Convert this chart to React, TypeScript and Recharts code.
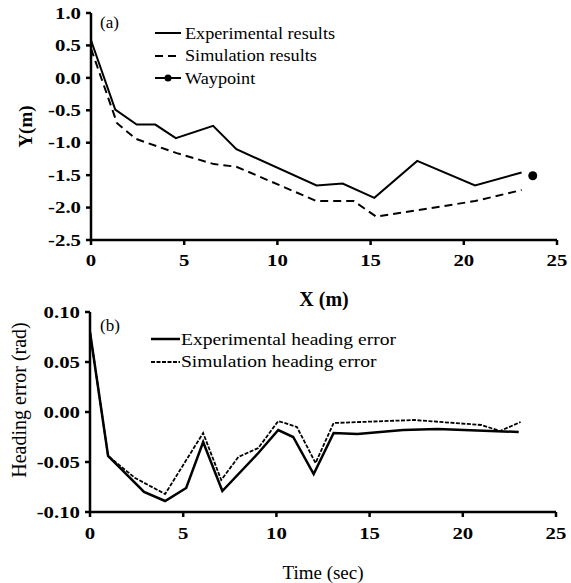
import React from "react";
import { ComposedChart, Line, Scatter, XAxis, YAxis, Label } from "recharts";

// (a) path in the X-Y plane
const expX = [0, 1.3, 2.45, 3.45, 4.55, 6.55, 7.8, 12.1, 13.5, 15.2, 17.5, 20.6, 23.1];
const expY = [0.58, -0.49, -0.72, -0.72, -0.93, -0.74, -1.1, -1.66, -1.63, -1.85, -1.28, -1.66, -1.46];
const simX = [0, 1.4, 2.4, 4.6, 6.6, 7.8, 12.1, 14.1, 15.3, 20.6, 23.1];
const simY = [0.45, -0.7, -0.94, -1.16, -1.33, -1.37, -1.9, -1.9, -2.14, -1.9, -1.73];
const waypointX = [23.7];
const waypointY = [-1.51];

// (b) heading error over time
const expT = [0, 0.97, 2.9, 4.03, 5.16, 6.07, 7.1, 9.03, 10.1, 10.9, 12.0, 13.07, 14.35, 16.8, 18.65, 23.0];
const expErr = [0.08, -0.044, -0.08, -0.089, -0.076, -0.03, -0.079, -0.041, -0.018, -0.025, -0.062, -0.021, -0.022, -0.018, -0.017, -0.02];
const simT = [0, 0.97, 2.42, 4.03, 6.07, 7.04, 7.96, 9.03, 10.1, 11.1, 12.1, 13.07, 17.4, 21.0, 22.0, 23.1];
const simErr = [0.08, -0.044, -0.066, -0.082, -0.021, -0.068, -0.045, -0.036, -0.009, -0.015, -0.051, -0.011, -0.008, -0.013, -0.019, -0.01];

const xTicks = [0, 5, 10, 15, 20, 25];
const yTicksA = [-2.5, -2.0, -1.5, -1.0, -0.5, 0.0, 0.5, 1.0];
const yTicksB = [-0.1, -0.05, 0.0, 0.05, 0.1];

const zip = (xs: number[], ys: number[]) => xs.map((x, i) => ({ x, y: ys[i] }));

const serif = "'Liberation Serif', 'Times New Roman', serif";
const axisLine = { stroke: "#000", strokeWidth: 2.5 };

// the scanned figure is a bit wide, so the text is stretched sideways
const serifTick =
  (fmt: (v: number) => string) =>
  (props: any) => {
    const { x, y, payload, textAnchor, verticalAnchor } = props;
    const dy = verticalAnchor === "start" ? "0.71em" : verticalAnchor === "end" ? "0" : "0.355em";
    return (
      <g transform={`translate(${x},${y})`}>
        <text
          x={0}
          y={0}
          dy={dy}
          textAnchor={textAnchor}
          transform="scale(1.3,1)"
          style={{ fontFamily: serif, fontSize: 16, fontWeight: "bold", fill: "#000" }}
        >
          {fmt(payload.value)}
        </text>
      </g>
    );
  };

const yTitle =
  (text: string, dx: number, dy: number, size: number, weight: string) =>
  (props: any) => {
    const vb = props.viewBox;
    const cx = vb.x + dx;
    const cy = vb.y + vb.height / 2 + dy;
    return (
      <text
        x={cx}
        y={cy}
        transform={`rotate(-90 ${cx} ${cy})`}
        textAnchor="middle"
        dominantBaseline="central"
        style={{ fontFamily: serif, fontSize: size, fontWeight: weight, fill: "#000" }}
      >
        {text}
      </text>
    );
  };

const LegendRow: React.FC<{
  dash?: string;
  dot?: boolean;
  width: number;
  gap: number;
  label: string;
  sw?: number;
  stretch?: number;
}> = ({ dash, dot, width, gap, label, sw = 2, stretch = 1.15 }) => (
  <div style={{ display: "flex", alignItems: "center", height: 22.5 }}>
    <svg width={width} height={12} style={{ marginRight: gap }}>
      <line x1={0} y1={6} x2={width} y2={6} stroke="#000" strokeWidth={sw} strokeDasharray={dash} />
      {dot && <circle cx={width / 2} cy={6} r={3.5} fill="#000" />}
    </svg>
    <span style={{ display: "inline-block", transform: `scaleX(${stretch})`, transformOrigin: "left center" }}>
      {label}
    </span>
  </div>
);

const textBox: React.CSSProperties = {
  position: "absolute",
  fontFamily: serif,
  fontSize: 17,
  color: "#000",
  lineHeight: 1,
  whiteSpace: "nowrap",
};

const App: React.FC = () => {
  return (
    <div
      style={{ position: "absolute", left: 0, top: 0, width: 571, height: 583, background: "#fff", fontFamily: serif }}
    >
      <div style={{ position: "absolute", left: 0, top: 0 }}>
        <ComposedChart width={571} height={310} margin={{ top: 13, right: 14, left: 0, bottom: 0 }}>
          <XAxis
            type="number"
            dataKey="x"
            domain={[0, 25]}
            ticks={xTicks}
            allowDataOverflow
            height={70}
            axisLine={axisLine}
            tickLine={axisLine}
            tickSize={5}
            tickMargin={10}
            tick={serifTick((v) => String(v))}
          >
            <Label
              value="X (m)"
              position="insideBottom"
              offset={4}
              style={{ fill: "#000", fontSize: 20, fontWeight: "bold", fontFamily: serif }}
            />
          </XAxis>
          <YAxis
            type="number"
            dataKey="y"
            domain={[-2.5, 1]}
            ticks={yTicksA}
            allowDataOverflow
            width={91}
            axisLine={axisLine}
            tickLine={axisLine}
            tickSize={5}
            tickMargin={5}
            tick={serifTick((v) => v.toFixed(1))}
          >
            <Label content={yTitle("Y(m)", 25, 0, 19, "bold")} />
          </YAxis>
          <Line
            data={zip(simX, simY)}
            dataKey="y"
            type="linear"
            stroke="#000"
            strokeWidth={2}
            strokeDasharray="8 5"
            dot={false}
            isAnimationActive={false}
          />
          <Line
            data={zip(expX, expY)}
            dataKey="y"
            type="linear"
            stroke="#000"
            strokeWidth={2}
            dot={false}
            isAnimationActive={false}
          />
          <Scatter
            data={zip(waypointX, waypointY)}
            dataKey="y"
            fill="#000"
            shape={(p: any) => <circle cx={p.cx} cy={p.cy} r={4.5} fill="#000" />}
            isAnimationActive={false}
          />
        </ComposedChart>
      </div>

      <div style={{ position: "absolute", left: 0, top: 300 }}>
        <ComposedChart width={571} height={283} margin={{ top: 12, right: 15, left: 0, bottom: 0 }}>
          <XAxis
            type="number"
            dataKey="x"
            domain={[0, 25]}
            ticks={xTicks}
            allowDataOverflow
            height={71}
            axisLine={axisLine}
            tickLine={axisLine}
            tickSize={5}
            tickMargin={11}
            tick={serifTick((v) => String(v))}
          >
            <Label
              value="Time (sec)"
              position="insideBottom"
              offset={4}
              style={{ fill: "#000", fontSize: 19, fontFamily: serif }}
            />
          </XAxis>
          <YAxis
            type="number"
            dataKey="y"
            domain={[-0.1, 0.1]}
            ticks={yTicksB}
            allowDataOverflow
            width={90}
            axisLine={axisLine}
            tickLine={axisLine}
            tickSize={5}
            tickMargin={5}
            tick={serifTick((v) => v.toFixed(2))}
          >
            <Label content={yTitle("Heading error (rad)", 19, -12, 20, "normal")} />
          </YAxis>
          <Line
            data={zip(simT, simErr)}
            dataKey="y"
            type="linear"
            stroke="#000"
            strokeWidth={1.8}
            strokeDasharray="4 1.5"
            dot={false}
            isAnimationActive={false}
          />
          <Line
            data={zip(expT, expErr)}
            dataKey="y"
            type="linear"
            stroke="#000"
            strokeWidth={2.5}
            dot={false}
            isAnimationActive={false}
          />
        </ComposedChart>
      </div>

      <div style={{ ...textBox, left: 100, top: 14 }}>(a)</div>
      <div style={{ ...textBox, left: 155, top: 22 }}>
        <LegendRow width={26} gap={4} stretch={1.07} label="Experimental results" />
        <LegendRow width={26} gap={4} stretch={1.07} dash="8 5" label="Simulation results" />
        <LegendRow width={26} gap={4} stretch={1.07} dot label="Waypoint" />
      </div>

      <div style={{ ...textBox, left: 100, top: 317 }}>(b)</div>
      <div style={{ ...textBox, left: 151, top: 328 }}>
        <LegendRow width={29} gap={1} sw={2.5} label="Experimental heading error" />
        <LegendRow width={29} gap={1} sw={1.8} dash="4 1.5" label="Simulation heading error" />
      </div>
    </div>
  );
};

export default App;
